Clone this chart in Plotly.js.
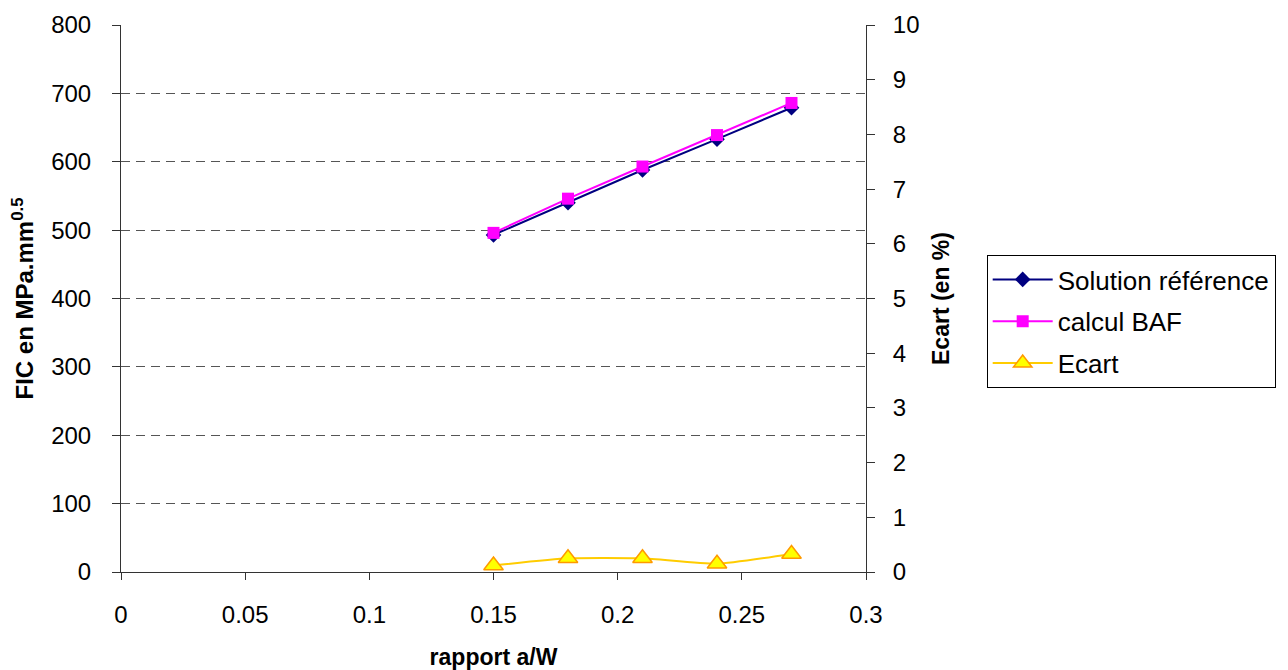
<!DOCTYPE html>
<html>
<head>
<meta charset="utf-8">
<script src="https://cdn.plot.ly/plotly-3.0.1.min.js"></script>
<style>html,body{margin:0;padding:0;background:#fff;}#chart{width:1288px;height:670px;}</style>
</head>
<body>
<div id="chart"></div>
<script>
const ratio = [0.15, 0.18, 0.21, 0.24, 0.27];
const solutionReference = [493, 540, 588, 633, 679];
const calculBAF = [496, 546, 593, 639, 686];
const ecart = [0.12, 0.25, 0.25, 0.15, 0.33];
const leftTicks = [0, 100, 200, 300, 400, 500, 600, 700, 800];
const rightTicks = [0,1,2,3,4,5,6,7,8,9,10];
const xTicks = [0, 0.05, 0.1, 0.15, 0.2, 0.25, 0.3];

const font = "Liberation Sans, Arial, sans-serif";
const traces = [
  {x: ratio, y: solutionReference, name: 'Solution référence', type: 'scatter', mode: 'lines+markers',
   legendgroup: 'a',
   line: {color: '#000080', width: 2}, marker: {symbol: 'diamond', size: 12, color: '#000080'}},
  {x: ratio, y: calculBAF, name: 'calcul BAF', type: 'scatter', mode: 'lines+markers',
   legendgroup: 'b',
   line: {color: '#FF00FF', width: 2}, marker: {symbol: 'square', size: 12, color: '#FF00FF'}},
  {x: ratio, y: ecart, name: 'Ecart', type: 'scatter', mode: 'lines+markers', yaxis: 'y2',
   legendgroup: 'c',
   line: {color: '#FFCC00', width: 2, shape: 'spline', smoothing: 0.5},
   marker: {symbol: 'triangle-up', size: 17, color: '#FFFF00', line: {color: '#FF9900', width: 1.5}}}
];
const axisCommon = {
  showline: true, linecolor: '#333', linewidth: 1, ticks: 'outside', ticklen: 8, tickcolor: '#333',
  zeroline: false, tickfont: {family: font, size: 24, color: '#000'}
};
const layout = {
  width: 1288, height: 670,
  margin: {l: 121, r: 420, t: 25, b: 98},
  paper_bgcolor: '#fff', plot_bgcolor: '#fff',
  font: {family: font, size: 24, color: '#000'},
  showlegend: true,
  legend: {x: 1.162, y: 0.5795, xanchor: 'left', yanchor: 'top', bordercolor: '#000', borderwidth: 1,
           font: {family: font, size: 26, color: '#000'}, bgcolor: '#fff',
           traceorder: 'grouped', tracegroupgap: 5, itemwidth: 60},
  xaxis: Object.assign({}, axisCommon, {
          range: [0, 0.3], tickvals: xTicks, ticktext: xTicks.map(String), showgrid: false,
          ticklen: 7, ticklabelstandoff: 14,
          title: {text: '<b>rapport a/W</b>', font: {family: font, size: 23}, standoff: 22}}),
  yaxis: Object.assign({}, axisCommon, {
          range: [0, 800], tickvals: leftTicks, showgrid: true, gridcolor: '#555', griddash: '9px,6px', gridwidth: 1,
          ticklabelstandoff: 16,
          title: {text: '<b>FIC en MPa.mm<sup>0.5</sup></b>', font: {family: font, size: 24}, standoff: 10}}),
  yaxis2: Object.assign({}, axisCommon, {
           range: [0, 10], tickvals: rightTicks, overlaying: 'y', side: 'right', showgrid: false,
           ticklabelstandoff: 13,
           title: {text: '<b>Ecart (en %)</b>', font: {family: font, size: 23}, standoff: 14}})
};
Plotly.newPlot('chart', traces, layout, {displayModeBar: false});
</script>
</body>
</html>
